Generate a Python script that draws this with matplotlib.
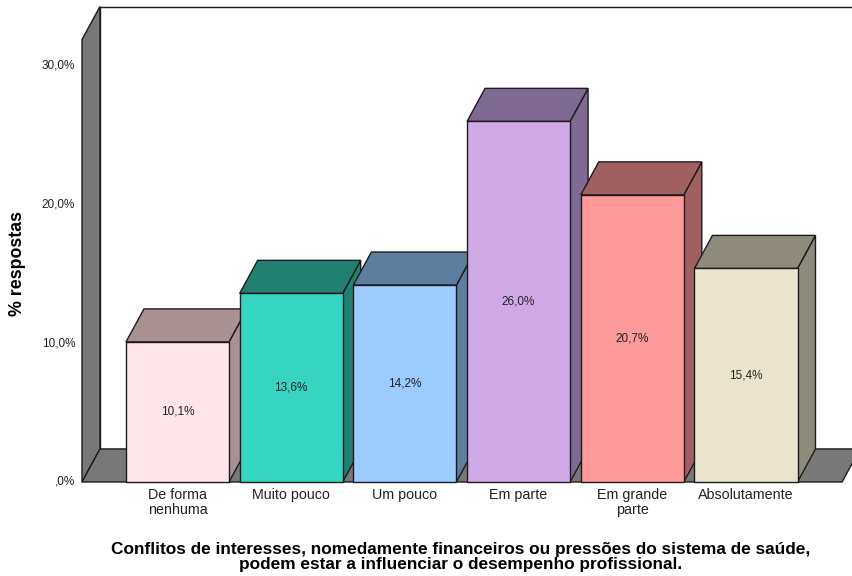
import matplotlib
matplotlib.use("Agg")

import matplotlib.pyplot as plt
import matplotlib as mpl
from matplotlib.patches import Polygon


# ==========================
# style
# ==========================

mpl.rcParams["font.family"] = ["Liberation Sans", "DejaVu Sans"]
mpl.rcParams["font.size"] = 8.5


# ==========================
# Data
# ==========================

categories = [
    "De forma\nnenhuma",
    "Muito pouco",
    "Um pouco",
    "Em parte",
    "Em grande\nparte",
    "Absolutamente",
]

percent = [10.1, 13.6, 14.2, 26.0, 20.7, 15.4]

value_labels = ["10,1%", "13,6%", "14,2%", "26,0%", "20,7%", "15,4%"]

y_ticks = [0, 10, 20, 30]
y_tick_labels = [",0%", "10,0%", "20,0%", "30,0%"]

front_colors = ["#FDE5EA", "#38D4C2", "#9CCBFF", "#D0AAE6", "#FF9A9A", "#EAE4CF"]
shade_colors = ["#A89294", "#218070", "#5C7FA0", "#7E6A92", "#A06062", "#8E8B7C"]


# ==========================
# Geometry (data units)
# ==========================

BAR_HALF = 0.453
DX = 0.158          # depth offset along x
DY = 2.38           # depth offset along y (percent)

WALL_X = -0.84
FLOOR_RIGHT = 5.845
WALL_TOP = 31.9

GRAY = "#787878"
EDGE = "#1e1a1e"


# ==========================
# Figure
# ==========================

fig = plt.figure(figsize=(8.52, 5.76), dpi=100)
ax = fig.add_axes([0, 0, 1, 1])

# 113.7 px per category, 13.87 px per percent point
ax.set_xlim(-177.5 / 113.7, (852 - 177.5) / 113.7)
ax.set_ylim(-(576 - 482) / 13.87, 482 / 13.87)
ax.axis("off")


def poly(points, face, z):
    ax.add_patch(Polygon(points, closed=True, facecolor=face,
                         edgecolor=EDGE, linewidth=1.0, zorder=z,
                         joinstyle="miter"))


# back wall
poly([(WALL_X + DX, DY), (FLOOR_RIGHT + DX + 0.5, DY),
      (FLOOR_RIGHT + DX + 0.5, WALL_TOP + DY), (WALL_X + DX, WALL_TOP + DY)],
     "white", 1)

# left wall
poly([(WALL_X, 0), (WALL_X + DX, DY),
      (WALL_X + DX, WALL_TOP + DY), (WALL_X, WALL_TOP)],
     GRAY, 2)

# floor
poly([(WALL_X, 0), (FLOOR_RIGHT, 0),
      (FLOOR_RIGHT + DX, DY), (WALL_X + DX, DY)],
     GRAY, 2)


# ==========================
# Bars
# ==========================

for i, v in enumerate(percent):

    x0 = i - BAR_HALF
    x1 = i + BAR_HALF
    z = 3 + i

    # side
    poly([(x1, 0), (x1 + DX, DY), (x1 + DX, v + DY), (x1, v)],
         shade_colors[i], z)

    # top
    poly([(x0, v), (x0 + DX, v + DY), (x1 + DX, v + DY), (x1, v)],
         shade_colors[i], z)

    # front
    poly([(x0, 0), (x1, 0), (x1, v), (x0, v)],
         front_colors[i], z + 0.5)

    ax.text(i, v / 2, value_labels[i], ha="center", va="center",
            fontsize=8.5, color="#222222", zorder=20)

    ax.text(i, -0.45, categories[i], ha="center", va="top",
            fontsize=10.3, color="#222222", linespacing=1.1)


# ==========================
# Y axis labels
# ==========================

for t, lab in zip(y_ticks, y_tick_labels):
    ax.text(-0.9, t, lab, ha="right", va="center",
            fontsize=8.5, color="#222222")

fig.text(18 / 852, 1 - 264 / 576, "% respostas", rotation=90,
         ha="center", va="center", fontsize=12.8, fontweight="bold")

fig.text(461 / 852, 1 - 557 / 576,
         "Conflitos de interesses, nomedamente financeiros ou pressões do sistema de saúde,\n"
         "podem estar a influenciar o desempenho profissional.",
         ha="center", va="center", fontsize=12.4, fontweight="bold",
         linespacing=0.98)


fig.savefig("out.png", dpi=100)
